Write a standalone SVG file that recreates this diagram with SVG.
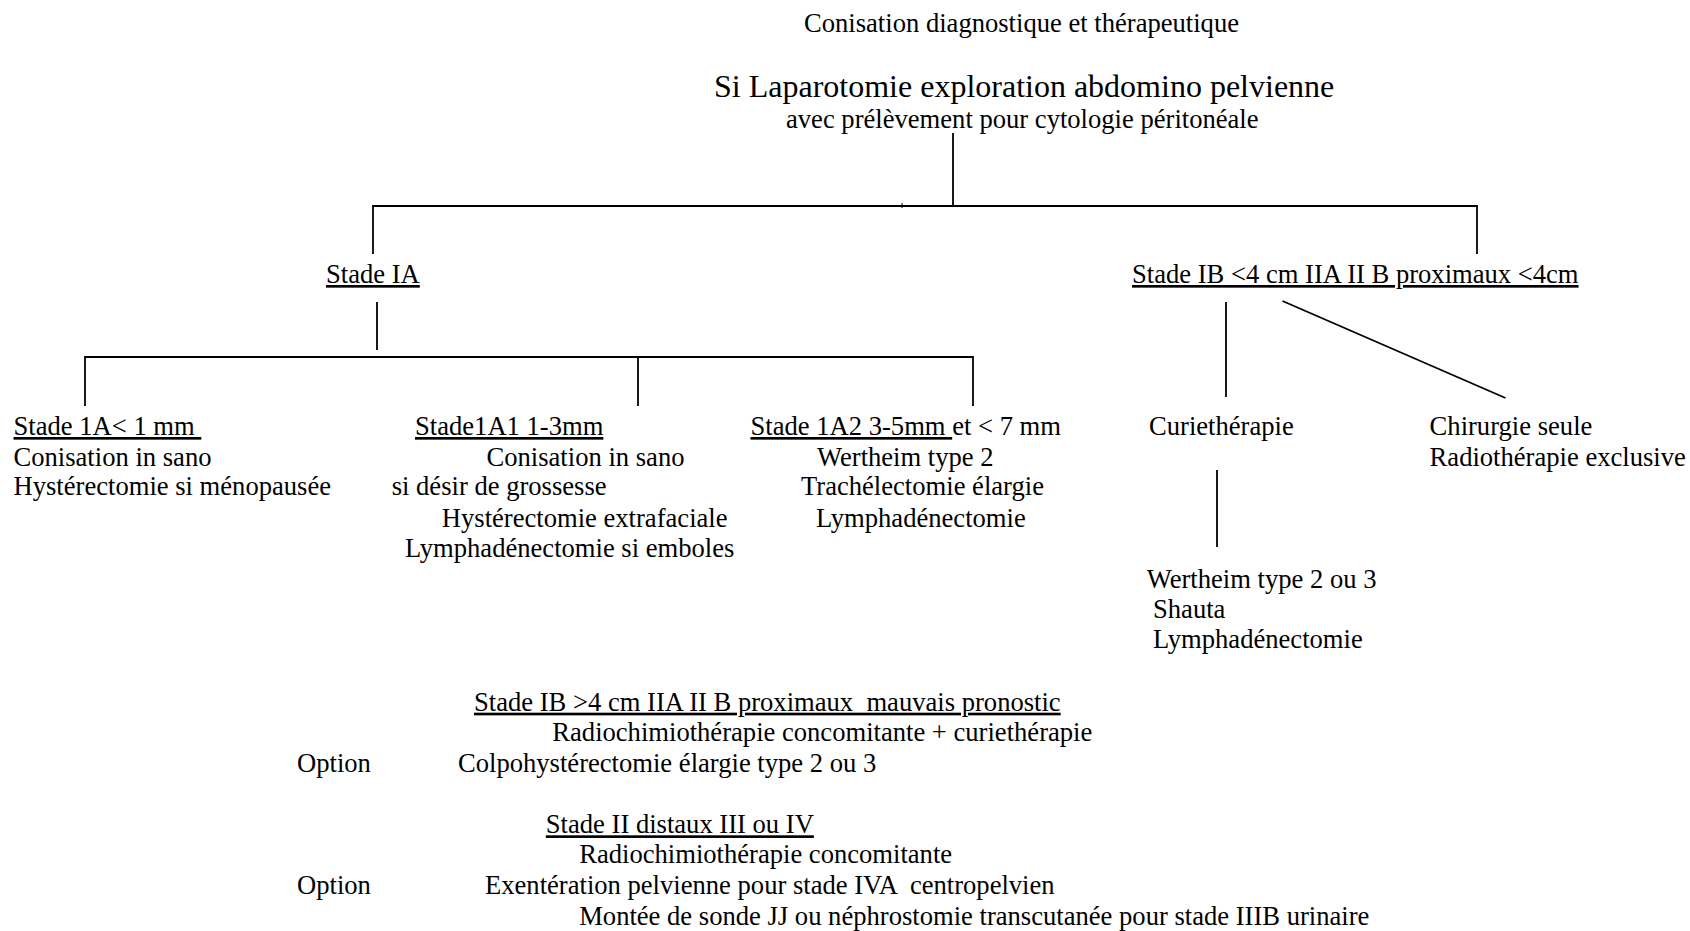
<svg xmlns="http://www.w3.org/2000/svg" width="1690" height="931" viewBox="0 0 1690 931">
<style>
text{font-family:"Liberation Serif","Times New Roman",serif;font-size:26.6px;fill:#000;white-space:pre}
.big{font-size:32px}
.u{text-decoration:underline}
.c line{stroke:#000;stroke-width:1.8;fill:none}
</style>
<rect width="1690" height="931" fill="#fff"/>
<g class="c" id="connectors">
<line x1="953" y1="133" x2="953" y2="206"/>
<line x1="373" y1="206" x2="1477" y2="206"/>
<line x1="902" y1="203" x2="902" y2="208" style="stroke-width:1"/>
<line x1="373" y1="205" x2="373" y2="254"/>
<line x1="1477" y1="205" x2="1477" y2="254"/>
<line x1="377" y1="302" x2="377" y2="350"/>
<line x1="85" y1="357" x2="973" y2="357"/>
<line x1="85" y1="356" x2="85" y2="406"/>
<line x1="638" y1="356" x2="638" y2="406"/>
<line x1="973" y1="356" x2="973" y2="406"/>
<line x1="1226" y1="302" x2="1226" y2="397"/>
<line x1="1282.5" y1="301" x2="1505.5" y2="398"/>
<line x1="1217" y1="470" x2="1217" y2="547"/>
</g>
<g id="n-conisation"><text x="804" y="31.5">Conisation diagnostique et thérapeutique</text></g>
<g id="n-laparotomie"><text class="big" x="714" y="97">Si Laparotomie exploration abdomino pelvienne</text><text x="786" y="128">avec prélèvement pour cytologie péritonéale</text></g>
<g id="n-stadeIA"><text class="u" x="326" y="283">Stade IA</text></g>
<g id="n-stadeIB"><text class="u" x="1132" y="283">Stade IB &lt;4 cm IIA II B proximaux &lt;4cm</text></g>
<g id="n-1A">
<text class="u" x="13.5" y="435">Stade 1A&lt; 1 mm </text>
<text x="13.5" y="465.7">Conisation in sano</text>
<text x="13.5" y="495">Hystérectomie si ménopausée</text>
</g>
<g id="n-1A1">
<text class="u" x="415" y="435">Stade1A1 1-3mm</text>
<text x="486.5" y="465.7">Conisation in sano</text>
<text x="391.7" y="495">si désir de grossesse</text>
<text x="441.8" y="526.7">Hystérectomie extrafaciale</text>
<text x="405" y="556.7">Lymphadénectomie si emboles</text>
</g>
<g id="n-1A2">
<text x="750.5" y="435"><tspan class="u">Stade 1A2 3-5mm </tspan>et &lt; 7 mm</text>
<text x="817" y="465.7">Wertheim type 2</text>
<text x="801" y="495">Trachélectomie élargie</text>
<text x="816" y="526.7">Lymphadénectomie</text>
</g>
<g id="n-curie"><text x="1149" y="435">Curiethérapie</text></g>
<g id="n-chirurgie"><text x="1429.6" y="435">Chirurgie seule</text><text x="1429.6" y="465.7">Radiothérapie exclusive</text></g>
<g id="n-wertheim">
<text x="1146.7" y="588">Wertheim type 2 ou 3</text>
<text x="1153" y="618">Shauta</text>
<text x="1153" y="648">Lymphadénectomie</text>
</g>
<g id="n-IB4">
<text class="u" x="474" y="710.7">Stade IB &gt;4 cm IIA II B proximaux  mauvais pronostic</text>
<text x="552.3" y="740.5">Radiochimiothérapie concomitante + curiethérapie</text>
<text x="297" y="771.7">Option</text>
<text x="458" y="771.7">Colpohystérectomie élargie type 2 ou 3</text>
</g>
<g id="n-II">
<text class="u" x="545.8" y="833.3">Stade II distaux III ou IV</text>
<text x="579.2" y="863.3">Radiochimiothérapie concomitante</text>
<text x="297" y="894.3">Option</text>
<text x="485" y="894.3">Exentération pelvienne pour stade IVA  centropelvien</text>
<text x="579.2" y="925">Montée de sonde JJ ou néphrostomie transcutanée pour stade IIIB urinaire</text>
</g>
</svg>
